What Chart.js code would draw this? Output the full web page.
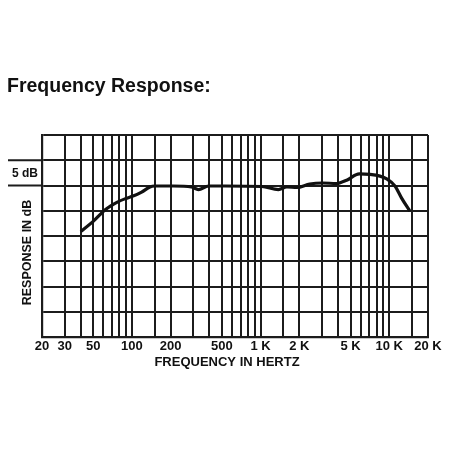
<!DOCTYPE html>
<html>
<head>
<meta charset="utf-8">
<title>Frequency Response</title>
<script src="https://cdn.jsdelivr.net/npm/chart.js@4.4.0/dist/chart.umd.min.js"></script>
<style>
    html, body { margin: 0; padding: 0; background: #fff; }
    #wrap { width: 450px; height: 450px; }
</style>
</head>
<body>
<div id="wrap"><canvas id="responseChart" width="450" height="450"></canvas></div>
<script>
    "use strict";

    // curve (Hz / dB)
    var frequencies = [40, 50, 62, 77, 89, 102, 119, 138, 150, 210, 290, 329, 394, 530, 1020, 1375, 1600, 1913, 2409, 3030, 3880, 4666, 5846, 7080, 8470, 9550, 11070, 12470, 14480];
    var responseDb = [-9.1, -7.1, -4.8, -3.3, -2.6, -2.1, -1.3, -0.3, -0.1, -0.1, -0.3, -0.8, -0.1, -0.1, -0.2, -0.8, -0.3, -0.4, 0.3, 0.5, 0.4, 1.05, 2.3, 2.2, 1.85, 1.3, -0.1, -2.5, -5.1];

    // vertical grid lines and their labels
    var gridFrequencies = [20, 30, 40, 50, 60, 70, 80, 90, 100, 150, 200, 300, 400, 500, 600, 700, 800, 900, 1000, 1500, 2000, 3000, 4000, 5000, 6000, 7000, 8000, 9000, 10000, 15000, 20000];
    var labelFrequencies = [20, 30, 50, 100, 200, 500, 1000, 2000, 5000, 10000, 20000];
    var labelTexts = ['20', '30', '50', '100', '200', '500', '1 K', '2 K', '5 K', '10 K', '20 K'];

    var INK = '#1c1c1c';
    var FONT = '"Liberation Sans", Arial, sans-serif';

    function tickLabel(value) {
        var i = labelFrequencies.indexOf(Math.round(value));
        return i < 0 ? '' : labelTexts[i];
    }

    // text and marks that sit outside the plot frame
    var sideNotes = {
        id: 'sideNotes',
        afterDraw: function (chart) {
            var ctx = chart.ctx;
            var y = chart.scales.y;
            var area = chart.chartArea;
            var y5 = y.getPixelForValue(5);
            var y0 = y.getPixelForValue(0);

            ctx.save();
            ctx.fillStyle = '#111';
            ctx.textBaseline = 'alphabetic';
            ctx.textAlign = 'left';
            ctx.font = 'bold 19.5px ' + FONT;
            ctx.fillText('Frequency Response:', 7, 92);

            // the 5 dB bracket
            ctx.strokeStyle = INK;
            ctx.lineWidth = 1.8;
            ctx.beginPath();
            ctx.moveTo(8, y5); ctx.lineTo(area.left, y5);
            ctx.moveTo(8, y0); ctx.lineTo(area.left, y0);
            ctx.stroke();
            ctx.font = 'bold 12px ' + FONT;
            ctx.textAlign = 'center';
            ctx.textBaseline = 'middle';
            ctx.fillText('5 dB', 25, (y5 + y0) / 2 + 0.5);

            // axis title sits a little left of the plot centre
            ctx.font = 'bold 13px ' + FONT;
            ctx.fillText('FREQUENCY IN HERTZ', 227, 362);

            ctx.translate(27.5, 252.5);
            ctx.rotate(-Math.PI / 2);
            ctx.font = 'bold 12.5px ' + FONT;
            ctx.fillText('RESPONSE IN dB', 0, 0);
            ctx.restore();
        }
    };

    var points = frequencies.map(function (f, i) {
        return { x: f, y: responseDb[i] };
    });

    new Chart(document.getElementById('responseChart').getContext('2d'), {
        type: 'line',
        data: {
            datasets: [{
                data: points,
                borderColor: '#111',
                borderWidth: 3.2,
                pointRadius: 0,
                fill: false,
                tension: 0.35,
                cubicInterpolationMode: 'monotone'
            }]
        },
        options: {
            responsive: false,
            animation: false,
            layout: { padding: { top: 135, right: 22, bottom: 0, left: 0 } },
            plugins: {
                legend: { display: false },
                tooltip: { enabled: false }
            },
            scales: {
                x: {
                    type: 'logarithmic',
                    min: 20,
                    max: 20000,
                    afterBuildTicks: function (scale) {
                        scale.ticks = gridFrequencies.map(function (v) { return { value: v }; });
                    },
                    afterFit: function (scale) { scale.height = 113; },
                    grid: { color: INK, lineWidth: 2, drawTicks: false },
                    border: { color: INK, width: 2.2 },
                    ticks: {
                        autoSkip: false,
                        maxRotation: 0,
                        padding: 2,
                        color: '#111',
                        font: { family: FONT, size: 13, weight: 'bold' },
                        callback: function (value) { return tickLabel(value); }
                    }
                },
                y: {
                    min: -30,
                    max: 10,
                    afterFit: function (scale) { scale.width = 42; },
                    grid: { color: INK, lineWidth: 2, drawTicks: false },
                    border: { color: INK, width: 2.2 },
                    ticks: { stepSize: 5, display: false }
                }
            }
        },
        plugins: [sideNotes]
    });
</script>
</body>
</html>
